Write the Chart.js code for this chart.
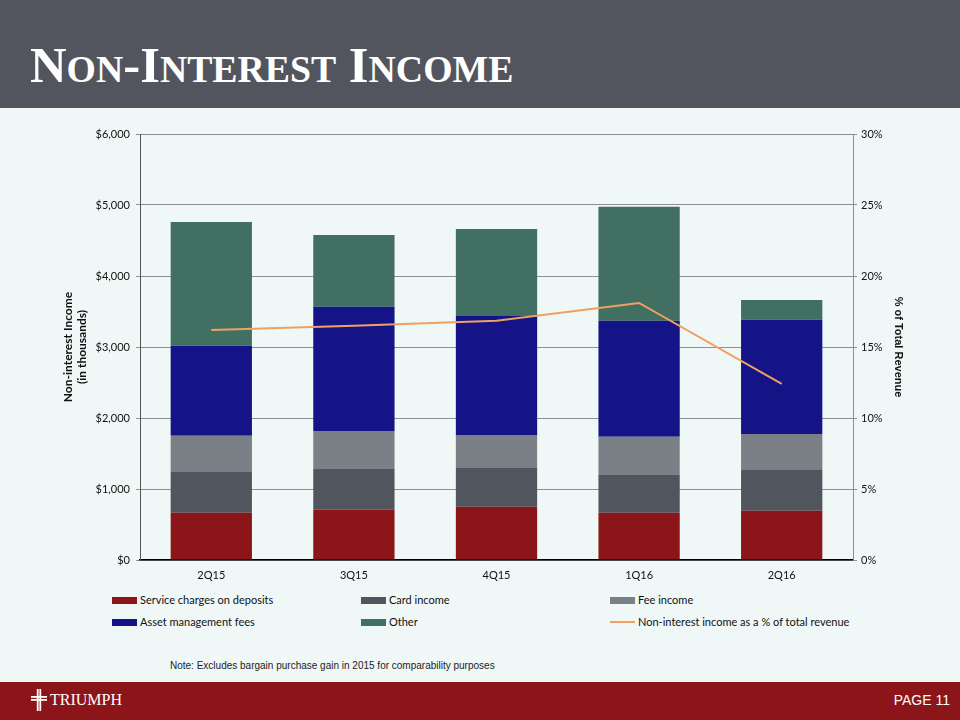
<!DOCTYPE html>
<html>
<head>
<meta charset="utf-8">
<script src="https://cdn.jsdelivr.net/npm/chart.js@4/dist/chart.umd.min.js"></script>
<style>
    body { margin: 0; width: 960px; height: 720px; background: #eff7f7; position: relative; overflow: hidden; font-family: Lato, sans-serif; }
    #header { position: absolute; left: 0; top: 0; width: 960px; height: 108px; background: #52555e; }
    #title { position: absolute; left: 30px; top: 36px; color: #fff; font-family: "Liberation Serif", serif; font-weight: bold; font-size: 51px; white-space: nowrap; transform-origin: left top; }
    #title .sc { font-size: 38px; }
    #chartBox { position: absolute; left: 55px; top: 120px; width: 852px; height: 468px; }
    #legend { position: absolute; left: 0; top: 0; width: 960px; }
    .item { position: absolute; font-size: 11px; color: #111; white-space: nowrap; line-height: 14px; }
    .swatch { display: inline-block; width: 25px; height: 7px; vertical-align: middle; margin-right: 3px; margin-top: -2px; }
    .swatch.line { height: 2px; }
    #note { position: absolute; left: 170px; top: 660px; font-size: 10px; color: #222; font-family: "Liberation Sans Narrow", "Liberation Sans", sans-serif; }
    #footer { position: absolute; left: 0; top: 682px; width: 960px; height: 38px; background: #8b1518; }
    #brand { position: absolute; left: 31px; top: 9px; color: #fff; font-family: "Liberation Serif", serif; font-size: 16px; }
    #brand svg { vertical-align: middle; margin-right: 3px; margin-top: -3px; }
    #page { position: absolute; right: 10px; top: 10px; color: #fff; font-size: 14px; font-family: "Liberation Sans Narrow", "Liberation Sans", sans-serif; }
</style>
</head>
<body>
<div id="header"><div id="title">N<span class="sc">ON</span>-I<span class="sc">NTEREST</span> I<span class="sc">NCOME</span></div></div>
<div id="chartBox"><canvas id="incomeChart"></canvas></div>
<div id="legend"></div>
<div id="note">Note: Excludes bargain purchase gain in 2015 for comparability purposes</div>
<div id="footer">
    <div id="brand"><svg width="16" height="22" viewBox="0 0 16 22"><rect x="5.8" y="0" width="1.8" height="22" fill="#fff"/><rect x="8.4" y="0" width="1.8" height="22" fill="#fff"/><rect x="0" y="7" width="16" height="1.8" fill="#fff"/><rect x="0" y="10" width="16" height="1.8" fill="#fff"/></svg>TRIUMPH</div>
    <div id="page">PAGE 11</div>
</div>
<script>
const quarters = ['2Q15', '3Q15', '4Q15', '1Q16', '2Q16'];
const serviceCharges = [666, 709, 751, 666, 695];
const cardIncome = [573, 573, 545, 531, 573];
const feeIncome = [512, 535, 465, 540, 507];
const assetMgmt = [1267, 1751, 1676, 1634, 1610];
const otherIncome = [1743, 1009, 1225, 1606, 277];
const pctOfRevenue = [16.2, 16.5, 16.85, 18.1, 12.4];
const incomeTicks = [0, 1000, 2000, 3000, 4000, 5000, 6000];
const pctTicks = [0, 5, 10, 15, 20, 25, 30];

const barSeries = [
    { label: 'Service charges on deposits', data: serviceCharges, color: '#8b1518' },
    { label: 'Card income', data: cardIncome, color: '#50555e' },
    { label: 'Fee income', data: feeIncome, color: '#7b7f86' },
    { label: 'Asset management fees', data: assetMgmt, color: '#141486' },
    { label: 'Other', data: otherIncome, color: '#417063' }
];
const lineLabel = 'Non-interest income as a % of total revenue';
const lineColor = '#f0a060';

document.addEventListener('DOMContentLoaded', () => {
    // squeeze the title to the width it has on the slide
    const title = document.getElementById('title');
    title.style.transform = 'scaleX(' + (483 / title.offsetWidth) + ')';

    const datasets = barSeries.map(s => ({
        type: 'bar',
        label: s.label,
        data: s.data,
        backgroundColor: s.color,
        stack: 'income',
        yAxisID: 'y',
        order: 1,
        categoryPercentage: 0.57,
        barPercentage: 1
    }));
    datasets.push({
        type: 'line',
        label: lineLabel,
        data: pctOfRevenue,
        borderColor: lineColor,
        borderWidth: 2,
        pointRadius: 0,
        tension: 0,
        yAxisID: 'y1',
        order: 0
    });

    const ctx = document.getElementById('incomeChart').getContext('2d');
    new Chart(ctx, {
        type: 'bar',
        data: { labels: quarters, datasets: datasets },
        options: {
            responsive: true,
            maintainAspectRatio: false,
            animation: false,
            layout: { padding: { top: 14 } },
            plugins: { legend: { display: false }, tooltip: { enabled: false } },
            scales: {
                x: {
                    stacked: true,
                    grid: { display: false },
                    border: { color: '#000', width: 1.5 },
                    ticks: { color: '#111', font: { family: 'Lato', size: 11 }, padding: 1 },
                    afterFit: scale => { scale.height = 28; }
                },
                y: {
                    stacked: true,
                    min: 0,
                    max: 6000,
                    afterBuildTicks: scale => { scale.ticks = incomeTicks.map(v => ({ value: v })); },
                    grid: { color: '#8c9196', tickLength: 4 },
                    border: { color: '#555', width: 1 },
                    ticks: {
                        color: '#111',
                        font: { family: 'Lato', size: 11 },
                        padding: 6,
                        callback: v => '$' + v.toLocaleString('en-US')
                    },
                    title: {
                        display: true,
                        text: ['Non-interest Income', '(in thousands)'],
                        color: '#111',
                        font: { family: 'Lato', size: 12, weight: 'bold' },
                        padding: { top: 6, bottom: 0 }
                    },
                    afterFit: scale => { scale.width = 85; }
                },
                y1: {
                    position: 'right',
                    min: 0,
                    max: 30,
                    afterBuildTicks: scale => { scale.ticks = pctTicks.map(v => ({ value: v })); },
                    grid: { drawOnChartArea: false, color: '#8c9196', tickLength: 4 },
                    border: { color: '#8c9196', width: 1 },
                    ticks: {
                        color: '#111',
                        font: { family: 'Lato', size: 11 },
                        padding: 4,
                        callback: v => v + '%'
                    },
                    title: {
                        display: true,
                        text: '% of Total Revenue',
                        color: '#111',
                        font: { family: 'Liberation Sans', size: 11, weight: 'bold' },
                        padding: 2
                    },
                    afterFit: scale => { scale.width = 54; }
                }
            }
        }
    });

    // legend in three columns
    const legend = document.getElementById('legend');
    const colX = [112, 361, 610];
    const rowY = [593, 615];
    const items = barSeries.map(s => ({ label: s.label, color: s.color, line: false }));
    items.push({ label: lineLabel, color: lineColor, line: true });
    items.forEach((it, i) => {
        const el = document.createElement('div');
        el.className = 'item';
        el.style.left = colX[i % 3] + 'px';
        el.style.top = rowY[Math.floor(i / 3)] + 'px';
        el.innerHTML = '<span class="swatch' + (it.line ? ' line' : '') + '" style="background:' + it.color + '"></span>' + it.label;
        legend.appendChild(el);
    });
});
</script>
</body>
</html>
